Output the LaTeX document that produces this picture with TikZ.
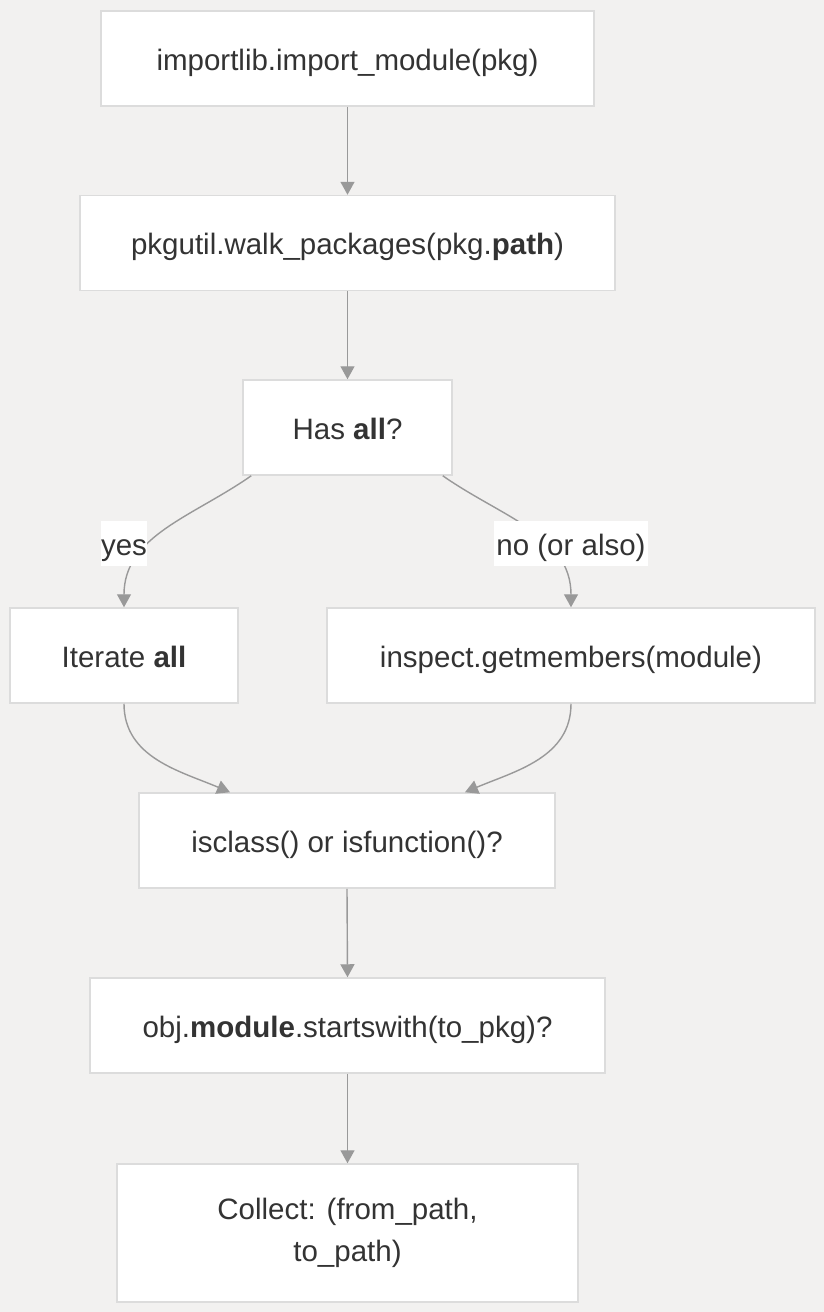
\documentclass[tikz,border=0pt]{standalone}
\usepackage{fontspec}
\setmainfont{Liberation Sans}
\usetikzlibrary{arrows.meta}
\definecolor{bgcol}{HTML}{F2F1F0}
\definecolor{boxline}{HTML}{DCDCDC}
\definecolor{edgecol}{HTML}{999999}
\definecolor{txtcol}{HTML}{333333}
\begin{document}
\begin{tikzpicture}[x=1pt, y=1pt,
        box/.style = {draw=boxline, line width=1.5pt, fill=white, text=txtcol, minimum height=95pt, align=center, text height=28pt, text depth=5pt, font=\fontsize{29.5}{42}\selectfont},
        flow/.style = {draw=edgecol, line width=1.4pt, -{Triangle[width=14pt,length=13pt]}},
        tag/.style = {fill=white, text=txtcol, inner sep=0pt, minimum height=45pt, minimum width=44pt, text height=28pt, text depth=5pt, font=\fontsize{29.5}{34}\selectfont}]
            \fill[bgcol] (0,0) rectangle (824,-1312);
            \node[box, minimum width=493pt] (imp) at (347.5,-58.5) {importlib.import\_module(pkg)};
            \node[box, minimum width=535pt] (walk) at (347.5,-243) {pkgutil.walk\_packages(pkg.\textbf{path})};
            \node[box, minimum width=209pt] (has) at (347.5,-427.5) {Has \textbf{all}?};
            \node[box, minimum width=228pt] (iter) at (124,-655.5) {Iterate \textbf{all}};
            \node[box, minimum width=488pt] (insp) at (571,-655.5) {inspect.getmembers(module)};
            \node[box, minimum width=416pt] (isc) at (347,-840.5) {isclass() or isfunction()?};
            \node[box, minimum width=515pt] (obj) at (347.5,-1025.5) {obj.\textbf{module}.startswith(to\_pkg)?};
            \node[box, minimum width=461pt, minimum height=138pt, text height=, text depth=] (col) at (347.5,-1233) {Collect: (from\_path,\\ to\_path)};
            \draw[flow] (imp.south) -- (walk.north);
            \draw[flow] (walk.south) -- (has.north);
            \draw[flow] ([xshift=9pt]has.south west) to[out=215,in=90] (iter.north);
            \draw[flow] ([xshift=-10pt]has.south east) to[out=-35,in=90] (insp.north);
            \node[tag] (yes) at (124,-543.5) {yes};
            \node[tag, inner xsep=2pt] (no) at (571,-543.5) {no (or also)};
            \draw[flow] (iter.south) to[out=-90,in=157] ([xshift=-117pt]isc.north);
            \draw[flow] (insp.south) to[out=-90,in=23] ([xshift=118pt]isc.north);
            \draw[flow] (isc.south) -- (obj.north);
            \draw[flow] (obj.south) -- (col.north);
        \end{tikzpicture}
\end{document}
